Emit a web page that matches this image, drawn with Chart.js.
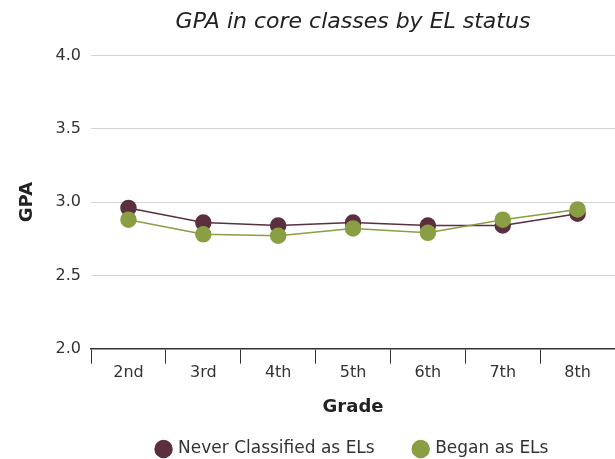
<!DOCTYPE html>
<html>
<head>
<meta charset="utf-8">
<script src="https://cdn.jsdelivr.net/npm/chart.js@4.4.0/dist/chart.umd.min.js"></script>
<style>
  html, body { margin: 0; padding: 0; background: #fff; overflow: hidden; }
  #wrap { width: 706px; height: 459px; }
</style>
</head>
<body>
<div id="wrap"><canvas id="gpaChart"></canvas></div>
<script>
var grades = ['2nd', '3rd', '4th', '5th', '6th', '7th', '8th'];
var neverEL = [2.96, 2.86, 2.84, 2.86, 2.84, 2.84, 2.92];
var beganEL = [2.88, 2.78, 2.77, 2.82, 2.79, 2.88, 2.95];

var maroon = '#5b2f3f';
var green = '#8a9e43';
var fontFamily = "'DejaVu Sans', sans-serif";

var ctx = document.getElementById('gpaChart').getContext('2d');
var gpaChart = new Chart(ctx, {
    type: 'line',
    data: {
        labels: grades,
        datasets: [{
            label: 'Never Classified as ELs',
            data: neverEL,
            borderColor: maroon,
            backgroundColor: maroon,
            borderWidth: 1.5,
            pointRadius: 7.5,
            pointHoverRadius: 7.5,
            tension: 0,
            order: 1
        }, {
            label: 'Began as ELs',
            data: beganEL,
            borderColor: green,
            backgroundColor: green,
            borderWidth: 1.5,
            pointRadius: 7.5,
            pointHoverRadius: 7.5,
            tension: 0,
            order: 0
        }]
    },
    options: {
        responsive: true,
        maintainAspectRatio: false,
        animation: false,
        layout: { autoPadding: false, padding: { left: 0, right: 0, top: 9, bottom: -8.5 } },
        scales: {
            x: {
                offset: true,
                grid: {
                    offset: true,
                    drawOnChartArea: false,
                    color: '#333',
                    tickLength: 15,
                    tickColor: '#333'
                },
                border: { color: '#333', width: 1.5 },
                ticks: {
                    color: '#333',
                    font: { family: fontFamily, size: 16 },
                    padding: 0
                },
                title: {
                    display: true,
                    text: 'Grade',
                    color: '#222',
                    font: { family: fontFamily, size: 18, weight: 'bold' },
                    padding: { top: 14, bottom: -18 }
                }
            },
            y: {
                min: 2.0,
                max: 4.0,
                grid: {
                    color: '#d4d4d4',
                    drawTicks: false
                },
                border: { display: false },
                ticks: {
                    stepSize: 0.5,
                    color: '#333',
                    padding: 10,
                    font: { family: fontFamily, size: 16 },
                    callback: function (v) { return v.toFixed(1); }
                },
                title: {
                    display: true,
                    text: 'GPA',
                    color: '#222',
                    font: { family: fontFamily, size: 18, weight: 'bold' },
                    padding: { top: 17, bottom: 7 }
                }
            },
            // empty right axis: keeps the plot ending at the window edge
            yRight: {
                position: 'right',
                grid: { display: false },
                border: { display: false },
                ticks: { display: false },
                afterFit: function (scale) { scale.width = 91; }
            }
        },
        plugins: {
            title: {
                display: true,
                text: 'GPA in core classes by EL status',
                color: '#222',
                font: { family: fontFamily, size: 22, style: 'italic', weight: 'normal' },
                padding: { top: 0, bottom: 20 }
            },
            legend: {
                position: 'bottom',
                labels: {
                    usePointStyle: true,
                    pointStyle: 'circle',
                    boxWidth: 12,
                    boxHeight: 12,
                    color: '#333',
                    padding: 40,
                    font: { family: fontFamily, size: 17 },
                    sort: function (a, b) { return a.datasetIndex - b.datasetIndex; }
                }
            },
            tooltip: { enabled: false }
        }
    }
});
</script>
</body>
</html>
